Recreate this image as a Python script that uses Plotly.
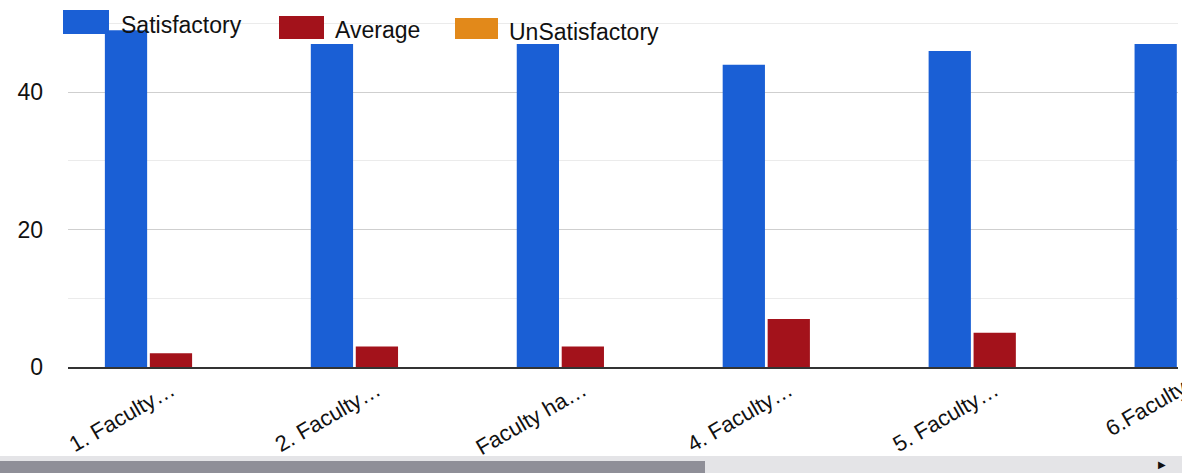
import plotly.graph_objects as go

categories = ["1. Faculty…", "2. Faculty…", "Faculty ha…", "4. Faculty…", "5. Faculty…", "6.Faculty…"]
satisfactory = [49, 47, 47, 44, 46, 47]
average = [2, 3, 3, 7, 5, 4]
unsatisfactory = [0, 0, 0, 0, 0, 0]
series_names = ["Satisfactory", "Average", "UnSatisfactory"]
colors = ["#1a5fd5", "#a3121b", "#e2891a"]
y_ticks = [0, 20, 40]

W, H = 1182, 473
L, R, T, B = 68, 4, 20, 106
PW, PH = W - L - R, H - T - B
x_range = [-0.5, 4.89]
y_range = [0, 50.5]
FONT = "Liberation Sans, Arial, sans-serif"

def px(x):
    return (x - L) / PW

def py(y):
    return (H - B - y) / PH

fig = go.Figure()
for name, vals, col in zip(series_names, [satisfactory, average, unsatisfactory], colors):
    fig.add_trace(go.Bar(x=categories, y=vals, name=name, marker_color=col,
                         marker_line_width=0, showlegend=False))

shapes = []
annotations = []

# custom legend (large swatches like the reference)
legend_items = [
    (63, 109, 10, 34, 119),
    (279, 324, 16, 39, 333),
    (455, 498, 18, 39, 507),
]
for (x0, x1, y0, y1, tx), name, col in zip(legend_items, series_names, colors):
    shapes.append(dict(type="rect", xref="paper", yref="paper", x0=px(x0), x1=px(x1),
                       y0=py(y1), y1=py(y0), fillcolor=col, line_width=0, layer="above"))
    annotations.append(dict(text=name, xref="paper", yref="paper", x=px(tx), y=py((y0 + y1) / 2 + 3),
                            xanchor="left", yanchor="middle", showarrow=False,
                            font=dict(family=FONT, size=23, color="#111")))

# last category label, partly cut off at the right edge
last_idx = len(categories) - 1
annotations.append(dict(text=categories[last_idx], xref="paper", yref="paper",
                        x=(last_idx - x_range[0]) / (x_range[1] - x_range[0]), y=0,
                        xanchor="right", yanchor="top", xshift=12, yshift=6, textangle=-30,
                        showarrow=False, font=dict(family=FONT, size=22, color="#111")))

# scrollbar-like band at the bottom
shapes.append(dict(type="rect", xref="paper", yref="paper", x0=px(0), x1=px(W),
                   y0=py(H), y1=py(456), fillcolor="#e4e4e7", line_width=0, layer="below"))
shapes.append(dict(type="rect", xref="paper", yref="paper", x0=px(0), x1=px(705),
                   y0=py(H), y1=py(461), fillcolor="#8f8f98", line_width=0, layer="below"))
annotations.append(dict(text="▶", xref="paper", yref="paper", x=px(1162), y=py(464),
                        xanchor="center", yanchor="middle", showarrow=False,
                        font=dict(family=FONT, size=10, color="#111")))

fig.update_layout(
    width=W, height=H,
    margin=dict(l=L, r=R, t=T, b=B, pad=0, autoexpand=False),
    paper_bgcolor="white", plot_bgcolor="white",
    barmode="group", bargap=0.345, bargroupgap=0.06,
    showlegend=False,
    shapes=shapes, annotations=annotations,
    xaxis=dict(type="category", range=x_range, showgrid=False, showline=True,
               linecolor="#333", linewidth=2, ticks="", tickangle=-30,
               tickfont=dict(family=FONT, size=22, color="#111"), zeroline=False),
    yaxis=dict(range=y_range, tickvals=y_ticks, showgrid=True, gridcolor="#cfcfcf",
               gridwidth=1, zeroline=False, showline=False, ticks="",
               ticklabelstandoff=24,
               tickfont=dict(family=FONT, size=23, color="#111"),
               minor=dict(dtick=10, tick0=0, showgrid=True, gridcolor="#ebebeb", gridwidth=1)),
)

fig.write_html("out.html", config={"displayModeBar": False},
               post_script="document.body.style.margin='0';document.body.style.overflow='hidden';")
